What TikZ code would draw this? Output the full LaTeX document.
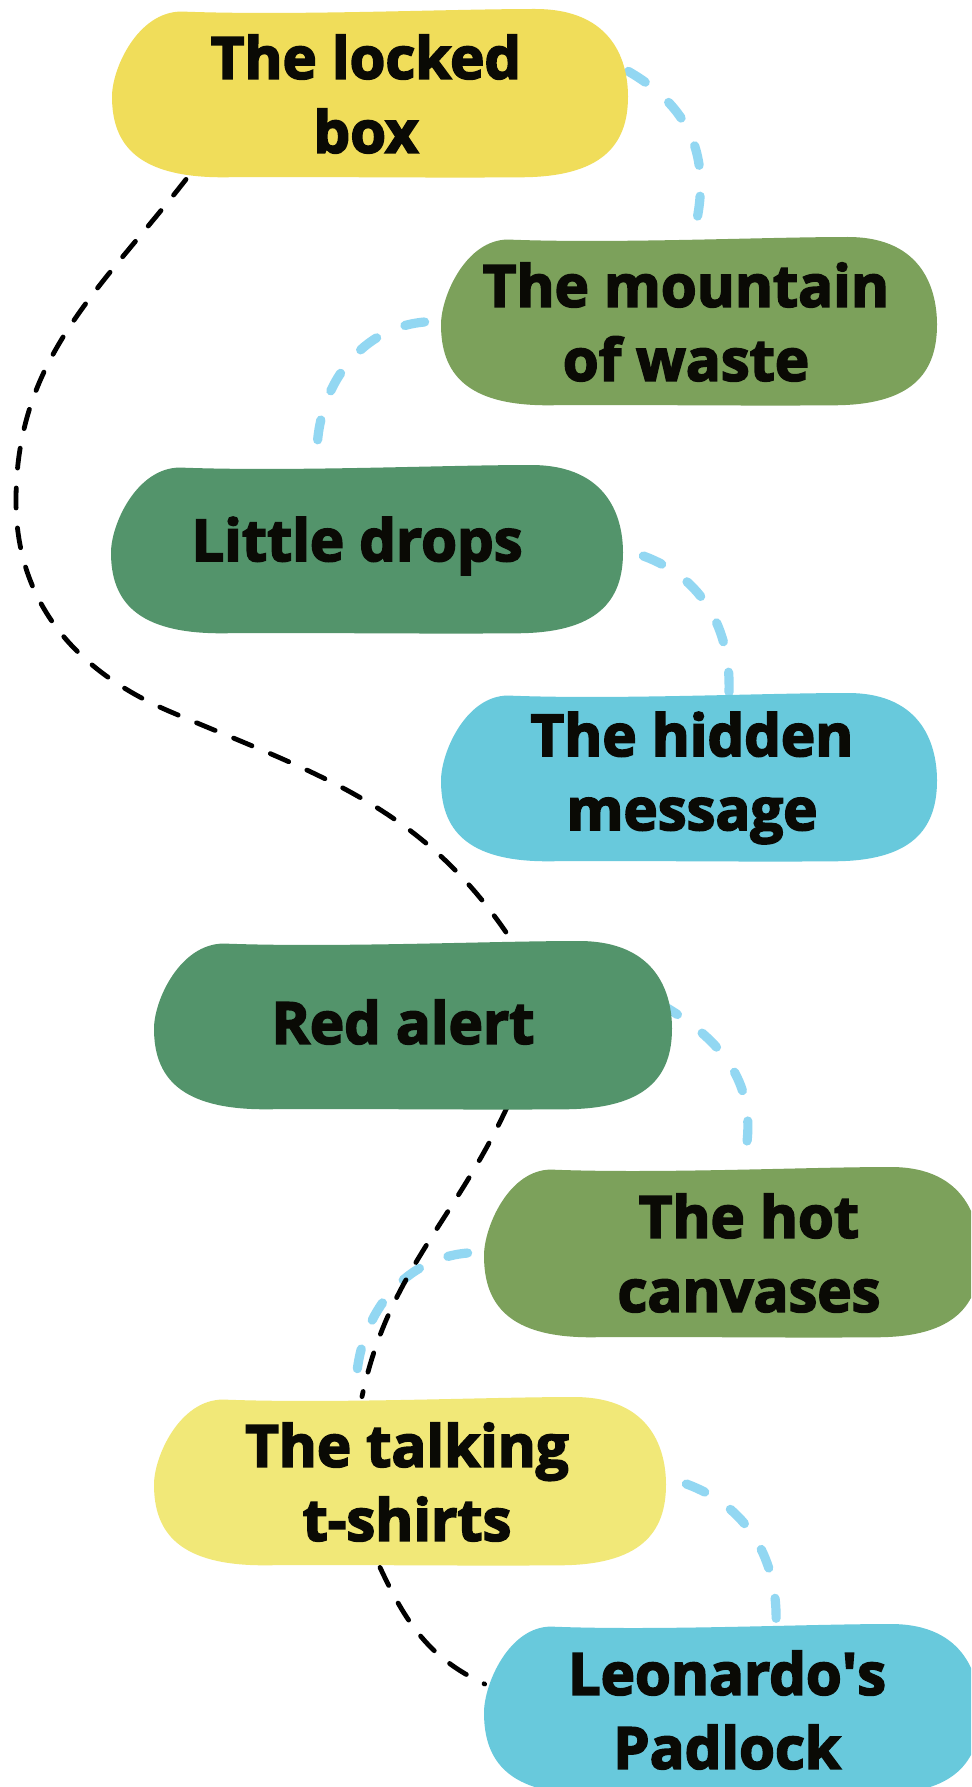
\documentclass[tikz,border=0pt]{standalone}
\usepackage{fontspec}
\setmainfont{Open Sans}[BoldFeatures={FakeBold=3}]
\usepackage{xcolor}
\usetikzlibrary{calc, backgrounds}

\definecolor{lockyellow}{HTML}{F0DD5A}
\definecolor{paleyellow}{HTML}{F1E878}
\definecolor{olive}{HTML}{7CA15B}
\definecolor{leafgreen}{HTML}{53946B}
\definecolor{skyblue}{HTML}{68C9DC}
\definecolor{dashblue}{HTML}{92D7F2}
\definecolor{inkblack}{HTML}{0A0A05}

% blob outline: colour, centre x, centre y, half width, half height (pixels)
\newcommand{\blobfill}[5]{%
  \fill[#1, shift={(#2,#3)}, xscale=#4, yscale=#5]
    (-0.73,0.97) .. controls (-0.3,0.92) and (0.3,1.0) .. (0.64,1.0)
    .. controls (0.95,1.0) and (1.0,0.35) .. (1.0,-0.03)
    .. controls (1.0,-0.6) and (0.9,-0.98) .. (0.58,-0.98)
    .. controls (0.2,-0.99) and (-0.2,-0.97) .. (-0.57,-0.98)
    .. controls (-0.9,-0.98) and (-1.0,-0.6) .. (-1.0,-0.03)
    .. controls (-1.0,0.3) and (-0.9,0.97) .. cycle;
}

\tikzset{
  blobbox/.style={minimum height=85pt, inner sep=0pt,
    align=center, text=inkblack, font=\fontsize{29}{37}\selectfont\bfseries},
  bluelink/.style={dashblue, line width=4.6pt, line cap=round, dash pattern=on 10pt off 15.5pt},
  blacklink/.style={black, line width=2.4pt, line cap=round, dash pattern=on 10pt off 10pt}
}

\begin{document}
\begin{tikzpicture}[x=0.5pt, y=0.5pt] % one unit is one pixel of the 971x1787 picture
        % Page
        \clip (0,0) rectangle (971,-1787);

        % Blob shapes
        \blobfill{lockyellow}{370}{-94}{258}{85}
        \blobfill{olive}{689}{-322}{248}{85}
        \blobfill{leafgreen}{367}{-550}{256}{85}
        \blobfill{skyblue}{689}{-778}{248}{85}
        \blobfill{leafgreen}{413}{-1026}{259}{85}
        \blobfill{olive}{732}{-1253}{248}{86}
        \blobfill{paleyellow}{410}{-1482}{256}{85}
        \blobfill{skyblue}{732}{-1710}{248}{86}

        % Blob labels
        \node[blobbox, minimum width=258pt] (lb) at (366,-94) {The locked\\box};
        \node[blobbox, minimum width=248pt] (mw) at (686,-322) {The mountain\\of waste};
        \node[blobbox, minimum width=256pt] (ld) at (357,-546) {Little drops};
        \node[blobbox, minimum width=248pt] (hm) at (692,-778) {The hidden\\message};
        \node[blobbox, minimum width=259pt] (ra) at (403,-1022) {Red alert};
        \node[blobbox, minimum width=248pt] (hc) at (749,-1253) {The hot\\canvases};
        \node[blobbox, minimum width=256pt] (ts) at (407,-1482) {The talking\\t-shirts};
        \node[blobbox, minimum width=248pt] (lp) at (727,-1710) {Leonardo\textquotesingle s\\Padlock};

        \begin{scope}[on background layer]
        \fill[white] (0,0) rectangle (971,-1787);

        % Blue dashed links
        \draw[bluelink] ([xshift=2pt]lb.5) to[out=-30, in=75, looseness=1.1] ([xshift=3.5pt]mw.north);
        \draw[bluelink] ([xshift=-6.5pt]mw.west) to[out=185, in=92] ([xshift=-20pt]ld.north);
        \draw[bluelink] ([xshift=15pt,yshift=-5pt]ld.east) to[out=-20, in=88] ([xshift=18.5pt]hm.north);
        \draw[bluelink] ([xshift=-1pt,yshift=9pt]ra.east) to[out=-30, in=75, looseness=1.1] ([xshift=-3.5pt]hc.north);
        \draw[bluelink] ([xshift=-16.5pt]hc.west) to[out=185, in=92] ([xshift=-25.5pt]ts.north);
        \draw[bluelink] ([xshift=11.5pt,yshift=-1pt]ts.east) to[out=-20, in=88] ([xshift=24.5pt]lp.north);

        % Black dashed links
        \coordinate (swing) at (16,-501);
        \coordinate (swing2) at (171,-712);
        \draw[blacklink] ([xshift=-90pt]lb.south) to[out=232, in=90] (swing)
            to[out=-90, in=157] (swing2) to[out=-23, in=124] ([xshift=53pt]ra.north);
        \draw[blacklink] ([xshift=52pt]ra.south) to[out=245, in=78] ([xshift=-22.5pt]ts.north);
        \draw[blacklink] ([xshift=-13.5pt]ts.south) to[out=-65, in=155] ([xshift=3pt,yshift=13pt]lp.west);
        \end{scope}

\end{tikzpicture}
\end{document}
